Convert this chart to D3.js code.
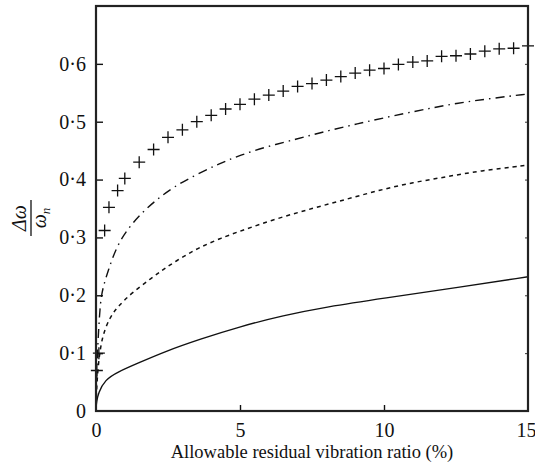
<!DOCTYPE html>
<html>
<head>
<meta charset="utf-8">
<script src="https://cdn.jsdelivr.net/npm/d3@7"></script>
<style>
  body { margin: 0; background: #fff; }
  svg text { font-family: "Liberation Serif", "Times New Roman", "DejaVu Serif", serif; fill: #111; }
</style>
</head>
<body>
<svg id="chart" width="535" height="468"></svg>
<script>
// tick labels
var xTicks = [0, 5, 10, 15];
var yTicks = [0, 0.1, 0.2, 0.3, 0.4, 0.5, 0.6];
var yTickLabels = ["0", "0·1", "0·2", "0·3", "0·4", "0·5", "0·6"];

// "+" markers
var crossX = [0.03, 0.1, 0.3, 0.45, 0.75, 1, 1.5, 2, 2.5, 3, 3.5, 4, 4.5, 5, 5.5, 6, 6.5, 7, 7.5, 8,
              8.5, 9, 9.5, 10, 10.5, 11, 11.5, 12, 12.5, 13, 13.5, 14, 14.5, 15];
var crossY = [0.07, 0.1, 0.312, 0.352, 0.381, 0.402, 0.430, 0.452, 0.473, 0.486, 0.500, 0.511, 0.522, 0.530,
              0.539, 0.546, 0.553, 0.561, 0.566, 0.572, 0.578, 0.584, 0.589, 0.592, 0.599, 0.603,
              0.605, 0.613, 0.614, 0.617, 0.622, 0.626, 0.627, 0.631];

// dash-dot curve
var dashDotX = [0, 0.03, 0.08, 0.15, 0.25, 0.43, 0.72, 1.12, 1.6, 2.1, 2.68, 3.5, 4.3, 5, 5.93,
                6.97, 7.78, 8.7, 9.4, 10.3, 11.37, 12.52, 13.68, 15];
var dashDotY = [0.02, 0.08, 0.13, 0.19, 0.215, 0.244, 0.285, 0.316, 0.343, 0.365, 0.387, 0.409, 0.428,
                0.442, 0.457, 0.47, 0.481, 0.492, 0.5, 0.51, 0.521, 0.532, 0.54, 0.548];

// dashed curve
var dashedX = [0, 0.05, 0.2, 0.49, 0.77, 1.24, 1.93, 2.4, 3.03, 3.6, 4.3, 5, 6.3, 7.5, 8.7, 9.86,
               11, 12.2, 13.3, 15];
var dashedY = [0.01, 0.07, 0.129, 0.163, 0.181, 0.204, 0.23, 0.247, 0.267, 0.283, 0.298, 0.311,
               0.333, 0.35, 0.366, 0.382, 0.395, 0.405, 0.415, 0.425];

// solid curve
var solidX = [0, 0.02, 0.08, 0.31, 0.77, 1.47, 2.4, 3.6, 5, 6.5, 8, 10, 12.5, 15];
var solidY = [0.005, 0.016, 0.031, 0.054, 0.068, 0.083, 0.103, 0.124, 0.146, 0.165, 0.18, 0.195,
              0.213, 0.232];

var margin = {top: 6, right: 7, bottom: 57, left: 96},
    W = 535, H = 468,
    w = W - margin.left - margin.right,
    h = H - margin.top - margin.bottom;

var svg = d3.select("#chart");
var g = svg.append("g").attr("transform", "translate(" + margin.left + "," + margin.top + ")");

var x = d3.scaleLinear().domain([0, 15]).range([0, w]);
var y = d3.scaleLinear().domain([0, 0.7]).range([h, 0]);

function zip(xs, ys) {
    return xs.map(function(v, i) { return {x: v, y: ys[i]}; });
}

var line = d3.line()
    .x(function(d) { return x(d.x); })
    .y(function(d) { return y(d.y); })
    .curve(d3.curveBasis);

// curves
g.append("path")
    .attr("d", line(zip(solidX, solidY)))
    .attr("fill", "none").attr("stroke", "#111").attr("stroke-width", 1.4);

g.append("path")
    .attr("d", line(zip(dashedX, dashedY)))
    .attr("fill", "none").attr("stroke", "#111").attr("stroke-width", 1.5)
    .attr("stroke-dasharray", "4,4");

g.append("path")
    .attr("d", line(zip(dashDotX, dashDotY)))
    .attr("fill", "none").attr("stroke", "#111").attr("stroke-width", 1.4)
    .attr("stroke-dasharray", "9,5,1.5,5");

// crosses
var cross = g.selectAll("g.cross").data(zip(crossX, crossY)).enter()
    .append("g").attr("class", "cross")
    .attr("transform", function(d) { return "translate(" + x(d.x) + "," + y(d.y) + ")"; });
cross.append("path")
    .attr("d", "M-6,0H6M0,-6V6")
    .attr("stroke", "#111").attr("stroke-width", 1.3);

// axes: ticks point inward
var xAxis = d3.axisBottom(x).tickValues(xTicks).tickSize(-6).tickPadding(12).tickFormat(d3.format("d"));
var yAxis = d3.axisLeft(y).tickValues(yTicks).tickSize(-7).tickPadding(10)
    .tickFormat(function(d, i) { return yTickLabels[i]; });

var gx = g.append("g").attr("transform", "translate(0," + h + ")").call(xAxis);
var gy = g.append("g").call(yAxis);
[gx, gy].forEach(function(a) {
    a.attr("font-family", null);
    a.select(".domain").remove();
    a.selectAll(".tick line").attr("stroke", "#111").attr("stroke-width", 1.4);
    a.selectAll(".tick text").attr("font-size", 20).attr("fill", "#111");
});
gy.selectAll(".tick").filter(function(d) { return d === 0; }).select("line").remove();
gx.selectAll(".tick").filter(function(d) { return d === 0 || d === 15; }).select("line").remove();
// last label sits at the window edge
gx.selectAll(".tick").filter(function(d) { return d === 15; }).select("text").attr("dx", -2);

// small ticks on the right side
g.append("g").attr("transform", "translate(" + w + ",0)")
    .call(d3.axisRight(y).tickValues(yTicks.slice(1)).tickSize(-3).tickFormat(""))
    .call(function(a) {
        a.select(".domain").remove();
        a.selectAll(".tick line").attr("stroke", "#333").attr("stroke-width", 1);
    });

// frame
g.append("rect")
    .attr("x", 0).attr("y", 0).attr("width", w).attr("height", h)
    .attr("fill", "none").attr("stroke", "#222").attr("stroke-width", 2.2);

// x label
svg.append("text")
    .attr("x", 312).attr("y", 458)
    .attr("text-anchor", "middle").attr("font-size", 18.5)
    .text("Allowable residual vibration ratio (%)");

// y label: fraction Δω / ω_n, rotated
var yl = svg.append("g").attr("transform", "translate(31,218) rotate(-90)");
yl.append("text").attr("x", 0).attr("y", -5).attr("text-anchor", "middle")
    .attr("font-size", 20).attr("font-style", "italic").text("Δω");
yl.append("line").attr("x1", -18).attr("x2", 18).attr("y1", 0).attr("y2", 0)
    .attr("stroke", "#111").attr("stroke-width", 1.3);
var den = yl.append("text").attr("x", 0).attr("y", 15).attr("text-anchor", "middle")
    .attr("font-size", 20).attr("font-style", "italic");
den.append("tspan").text("ω");
den.append("tspan").attr("font-size", 13).attr("dy", 4).text("n");
</script>
</body>
</html>
